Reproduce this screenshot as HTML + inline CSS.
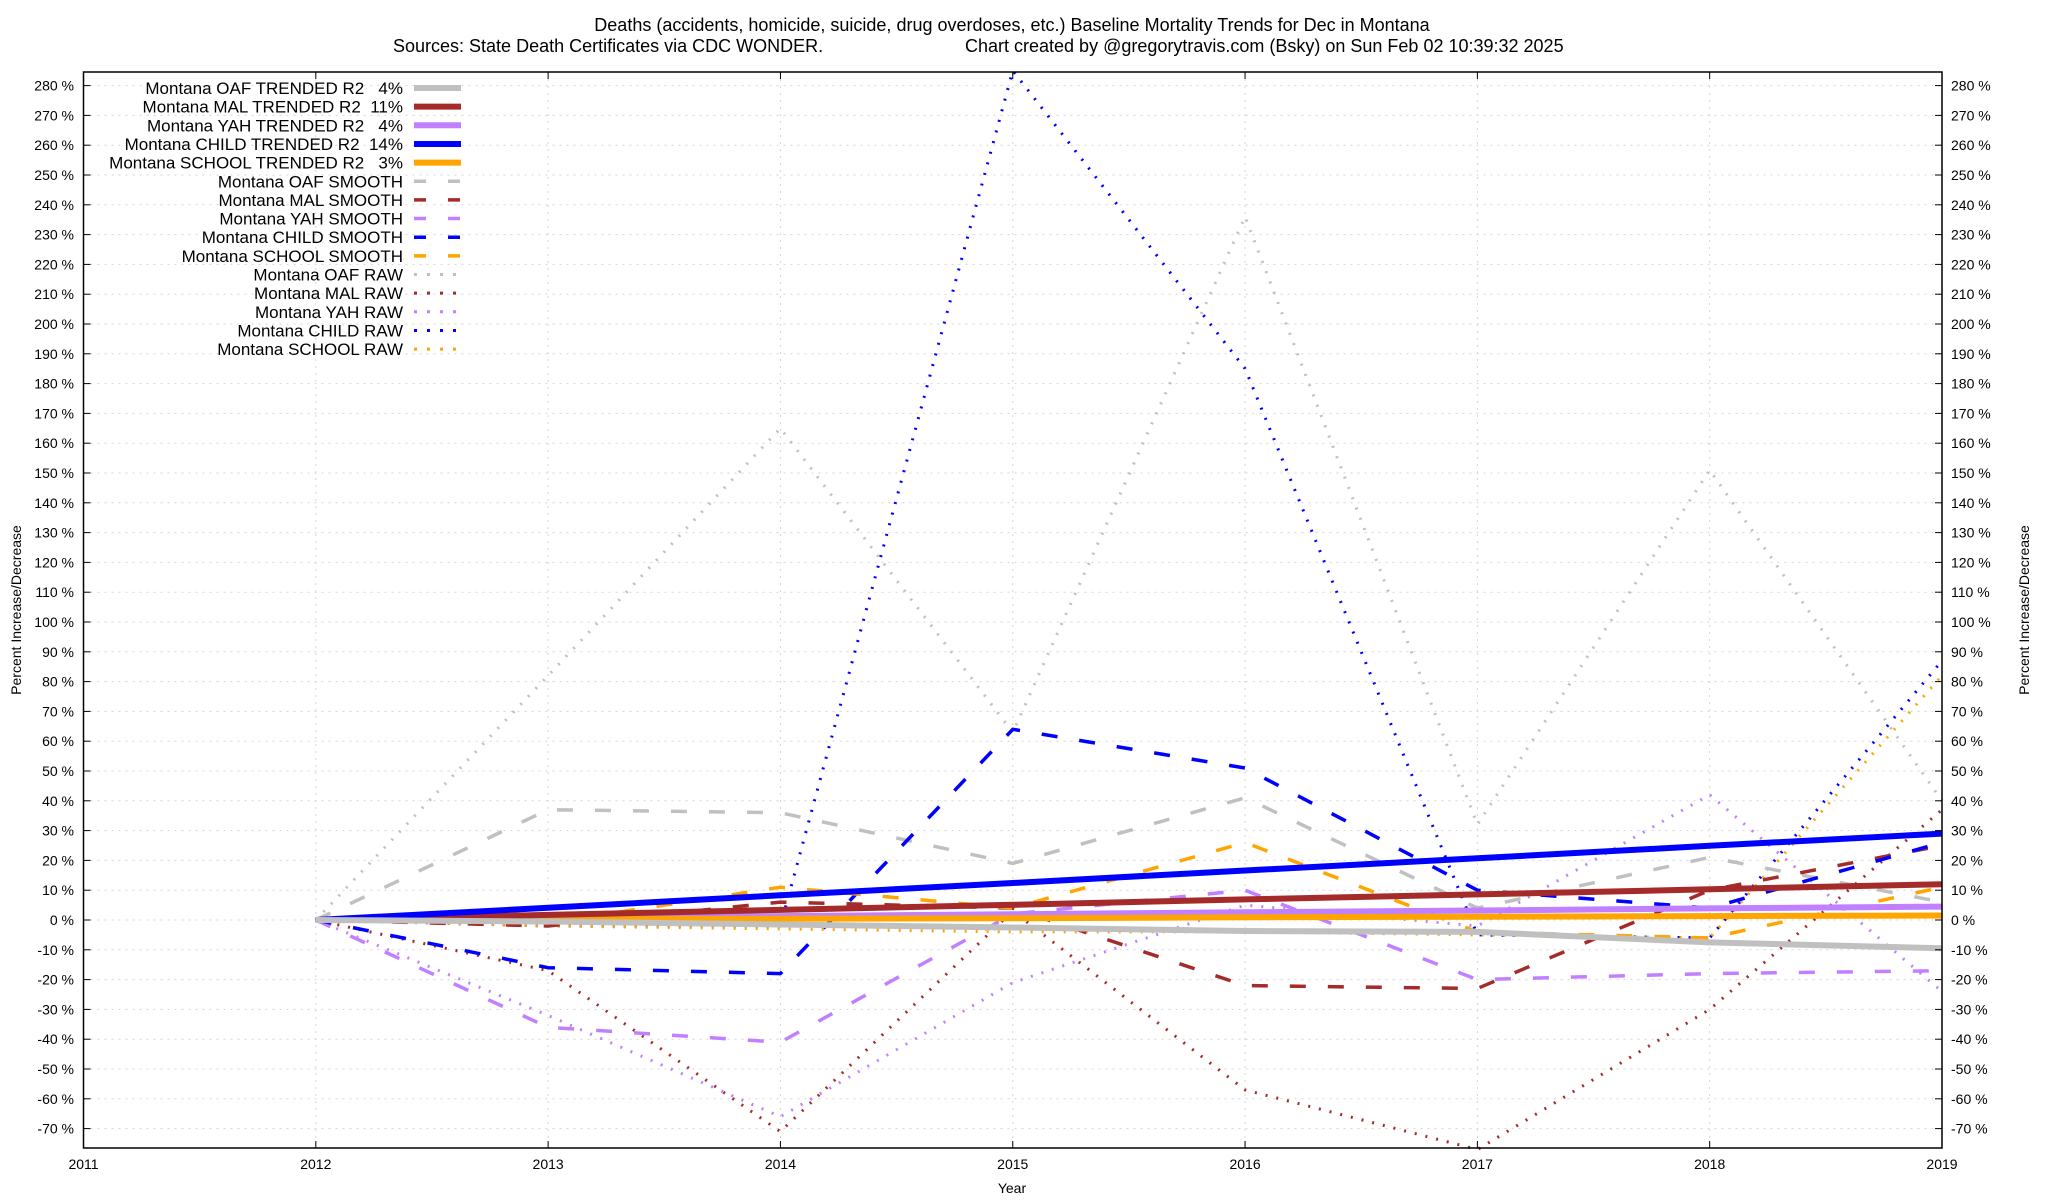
<!DOCTYPE html>
<html><head><meta charset="utf-8"><style>
html,body{margin:0;padding:0;background:#fff;}
svg{display:block;font-family:"Liberation Sans",sans-serif;}
</style></head><body>
<svg id="chart" width="2048" height="1200" viewBox="0 0 2048 1200" xmlns="http://www.w3.org/2000/svg">
<rect x="0" y="0" width="2048" height="1200" fill="#fff"/>
<text x="1012" y="31" font-size="18" text-anchor="middle">Deaths (accidents, homicide, suicide, drug overdoses, etc.)  Baseline Mortality Trends for Dec in Montana</text>
<text x="393" y="52" font-size="18">Sources: State Death Certificates via CDC WONDER.</text>
<text x="965" y="52" font-size="18">Chart created by @gregorytravis.com (Bsky) on Sun Feb 02 10:39:32 2025</text>
<g id="grid"></g>
<g id="series"></g>
<rect x="83.5" y="72" width="1858.5" height="1076" fill="none" stroke="#000" stroke-width="1.5"/>
<g id="axes"></g>
<text transform="translate(21,610) rotate(-90)" font-size="14" text-anchor="middle">Percent Increase/Decrease</text>
<text transform="translate(2029,610) rotate(-90)" font-size="14" text-anchor="middle">Percent Increase/Decrease</text>
<text x="1012" y="1193" font-size="14" text-anchor="middle">Year</text>
<g id="legend"></g>
</svg>
<script>
const years = [2012, 2013, 2014, 2015, 2016, 2017, 2018, 2019];
const xTicks = [2011, 2012, 2013, 2014, 2015, 2016, 2017, 2018, 2019];
const yTicks = [-70,-60,-50,-40,-30,-20,-10,0,10,20,30,40,50,60,70,80,90,100,110,120,130,140,150,160,170,180,190,200,210,220,230,240,250,260,270,280];
const oafTrend = [0, -0.5, -1.5, -2.5, -3.7, -4, -7.5, -9.5];
const malTrend = [0, 1.7, 3.4, 5.1, 6.9, 8.6, 10.3, 12];
const yahTrend = [0, 0.6, 1.3, 1.9, 2.6, 3.2, 3.9, 4.5];
const childTrend = [0, 4.1, 8.3, 12.4, 16.6, 20.7, 24.9, 29];
const schoolTrend = [0, 0.2, 0.4, 0.6, 0.9, 1.1, 1.3, 1.5];
const oafSmooth = [0, 37, 36, 19, 41, 4, 21, 6];
const malSmooth = [0, -2, 6, 4, -22, -23, 10, 25];
const yahSmooth = [0, -36, -41, 2, 10, -20, -18, -17];
const childSmooth = [0, -16, -18, 64, 51, 10, 4, 26];
const schoolSmooth = [0, -1, 11, 4, 26, -4, -6, 11];
const oafRaw = [0, 82, 165, 63, 236, 32, 151, 40];
const malRaw = [0, -17, -71, 3, -57, -77, -30, 37];
const yahRaw = [0, -32, -66, -21, 5, -2, 42, -24];
const childRaw = [0, -2, -2, 285, 185, -5, -6, 87];
const schoolRaw = [0, -2, -3, -4, -4, -5, -6, 82];

const NS = "http://www.w3.org/2000/svg";
const X0 = 83.5, X1 = 1942, Y0pct = 920, PXPCT = 2.98;
function xs(yr){ return X0 + (yr - 2011) * (X1 - X0) / 8; }
function ys(v){ return Y0pct - v * PXPCT; }
function mk(tag, attrs, parent){ const e = document.createElementNS(NS, tag); for (const k in attrs) e.setAttribute(k, attrs[k]); parent.appendChild(e); return e; }

const grid = document.getElementById('grid');
const axes = document.getElementById('axes');
yTicks.forEach(v => {
  const y = ys(v);
  const gl = mk('line', {x1: X0, x2: X1, y1: y, y2: y, stroke: '#d4d4d4', 'stroke-width': 1, 'stroke-dasharray': '2,5'}, grid);
  
  
  const t1 = mk('line', {x1: X0, x2: X0 + 7, y1: y, y2: y, stroke: '#000', 'stroke-width': 1}, axes);
  
  
  const t2 = mk('line', {x1: X1 - 7, x2: X1, y1: y, y2: y, stroke: '#000', 'stroke-width': 1}, axes);
  
  
  const l1 = mk('text', {x: 74, y: y + 5, 'font-size': 14, 'text-anchor': 'end'}, axes);
  l1.textContent = v + ' %';
  
  
  const l2 = mk('text', {x: 1951, y: y + 5, 'font-size': 14}, axes);
  l2.textContent = v + ' %';
  
  
});
xTicks.forEach(yr => {
  const x = xs(yr);
  const gl = mk('line', {x1: x, x2: x, y1: 72, y2: 1148, stroke: '#d4d4d4', 'stroke-width': 1, 'stroke-dasharray': '2,5'}, grid);
  
  
  const t = mk('line', {x1: x, x2: x, y1: 1141, y2: 1148, stroke: '#000', 'stroke-width': 1}, axes);
  
  
  const t2 = mk('line', {x1: x, x2: x, y1: 72, y2: 79, stroke: '#000', 'stroke-width': 1}, axes);
  
  
  const l = mk('text', {x: x, y: 1169, 'font-size': 14, 'text-anchor': 'middle'}, axes);
  l.textContent = yr;
  
  
});

const GRAY = '#c0c0c0', MAL = '#a52a2a', YAH = '#c080ff', CHILD = '#0000ff', SCHOOL = '#ffa500';
const seriesDefs = [
  {name: 'oaf-raw', data: oafRaw, color: GRAY, w: 3, dash: '2,9', label: 'Montana OAF RAW'},
  {name: 'mal-raw', data: malRaw, color: MAL, w: 3, dash: '2,9', label: 'Montana MAL RAW'},
  {name: 'yah-raw', data: yahRaw, color: YAH, w: 3, dash: '2,9', label: 'Montana YAH RAW'},
  {name: 'child-raw', data: childRaw, color: CHILD, w: 3, dash: '2,9', label: 'Montana CHILD RAW'},
  {name: 'school-raw', data: schoolRaw, color: SCHOOL, w: 3, dash: '2,9', label: 'Montana SCHOOL RAW'},
  {name: 'oaf-smooth', data: oafSmooth, color: GRAY, w: 3.5, dash: '16,22', label: 'Montana OAF SMOOTH'},
  {name: 'mal-smooth', data: malSmooth, color: MAL, w: 3.5, dash: '16,22', label: 'Montana MAL SMOOTH'},
  {name: 'yah-smooth', data: yahSmooth, color: YAH, w: 3.5, dash: '16,22', label: 'Montana YAH SMOOTH'},
  {name: 'child-smooth', data: childSmooth, color: CHILD, w: 3.5, dash: '16,22', label: 'Montana CHILD SMOOTH'},
  {name: 'school-smooth', data: schoolSmooth, color: SCHOOL, w: 3.5, dash: '16,22', label: 'Montana SCHOOL SMOOTH'},
  {name: 'yah-trend', data: yahTrend, color: YAH, w: 6, dash: '', label: 'Montana YAH TRENDED R2   4%'},
  {name: 'school-trend', data: schoolTrend, color: SCHOOL, w: 6, dash: '', label: 'Montana SCHOOL TRENDED R2   3%'},
  {name: 'mal-trend', data: malTrend, color: MAL, w: 6, dash: '', label: 'Montana MAL TRENDED R2  11%'},
  {name: 'child-trend', data: childTrend, color: CHILD, w: 6, dash: '', label: 'Montana CHILD TRENDED R2  14%'},
  {name: 'oaf-trend', data: oafTrend, color: GRAY, w: 6, dash: '', label: 'Montana OAF TRENDED R2   4%'}
];
const sg = document.getElementById('series');
seriesDefs.forEach(s => {
  const pts = s.data.map((v, i) => xs(years[i]).toFixed(1) + ',' + ys(v).toFixed(1)).join(' ');
  const attrs = {points: pts, fill: 'none', stroke: s.color, 'stroke-width': s.w, 'stroke-linejoin': 'round'};
  if (s.dash) attrs['stroke-dasharray'] = s.dash;
  const pl = mk('polyline', attrs, sg);
  
  
});

const legendOrder = ['oaf-trend','mal-trend','yah-trend','child-trend','school-trend','oaf-smooth','mal-smooth','yah-smooth','child-smooth','school-smooth','oaf-raw','mal-raw','yah-raw','child-raw','school-raw'];
const lg = document.getElementById('legend');
legendOrder.forEach((n, i) => {
  const s = seriesDefs.find(d => d.name === n);
  const y = 88 + i * 18.65;
  const t = mk('text', {x: 403, y: y + 6, 'font-size': 17, 'text-anchor': 'end', style: 'white-space:pre'}, lg);
  t.textContent = s.label;
  
  
  const a = {x1: 414, x2: 461, y1: y, y2: y, stroke: s.color, 'stroke-width': s.w};
  if (s.dash) a['stroke-dasharray'] = s.dash === '2,9' ? '3,10' : '12,22';
  const l = mk('line', a, lg);
  
  
});
</script>
</body></html>
